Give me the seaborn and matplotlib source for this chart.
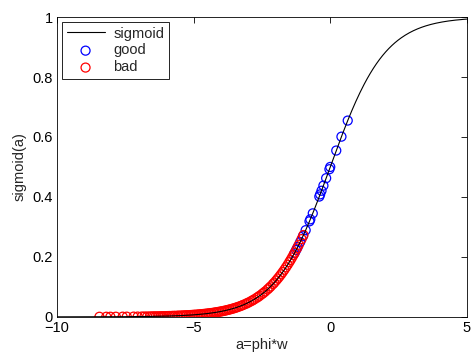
import numpy as np
import pandas as pd
import matplotlib
matplotlib.use("Agg")
import matplotlib.pyplot as plt
import seaborn as sns

# a values
good_a = [-1.31, -1.25, -1.19, -1.1, -1.0, -0.9, -0.76, -0.73, -0.64,
          -0.4, -0.37, -0.32, -0.25, -0.15, -0.03, 0.0, 0.22, 0.41, 0.64]
bad_a = [-8.45, -8.2, -8.05, -7.85, -7.6, -7.45, -7.2, -7.05, -6.9, -6.8,
         -6.7, -6.6, -6.52, -6.45, -6.38, -6.3, -6.22, -6.15, -6.08, -6.0,
         -5.94, -5.88, -5.8, -5.74, -5.68, -5.6, -5.55, -5.48, -5.42, -5.36,
         -5.3, -5.25, -5.18, -5.12, -5.06, -5.0, -4.95, -4.88, -4.82, -4.76,
         -4.7, -4.64, -4.58, -4.52, -4.46, -4.4, -4.35, -4.28, -4.22, -4.16,
         -4.1, -4.04, -3.98, -3.92, -3.86, -3.8, -3.74, -3.68, -3.62, -3.56,
         -3.5, -3.44, -3.38, -3.3, -3.24, -3.18, -3.1, -3.04, -2.98, -2.9,
         -2.84, -2.78, -2.7, -2.64, -2.58, -2.5, -2.44, -2.38, -2.3, -2.24,
         -2.18, -2.1, -2.05, -1.98, -1.92, -1.86, -1.8, -1.74, -1.68, -1.62,
         -1.56, -1.5, -1.45, -1.4, -1.35, -1.3, -1.22, -1.15, -1.05, -0.98]
x_ticks = [-10, -5, 0, 5]
y_ticks = [0, 0.2, 0.4, 0.6, 0.8, 1]
y_tick_labels = ["0", "0.2", "0.4", "0.6", "0.8", "1"]


def sigmoid(a):
    return 1.0 / (1.0 + np.exp(-np.asarray(a, dtype=float)))


curve_a = np.linspace(-10, 5, 400)
curve = pd.DataFrame({"a": curve_a, "s": sigmoid(curve_a)})
good = pd.DataFrame({"a": good_a, "s": sigmoid(good_a)})
bad = pd.DataFrame({"a": bad_a, "s": sigmoid(bad_a)})

sns.set_style("white")
plt.rcParams["font.family"] = ["Liberation Sans", "DejaVu Sans"]
plt.rcParams["xtick.direction"] = "in"
plt.rcParams["ytick.direction"] = "in"

fig = plt.figure(figsize=(4.72, 3.56), dpi=100)
ax = fig.add_axes([0.121, 0.110, 0.868, 0.842])

sns.lineplot(data=curve, x="a", y="s", ax=ax, color="black", linewidth=0.8,
             label="sigmoid")
sns.scatterplot(data=good, x="a", y="s", ax=ax, marker="o", s=42,
                facecolor="none", edgecolor=(0, 0, 1), linewidth=0.9,
                label="good")
sns.scatterplot(data=bad, x="a", y="s", ax=ax, marker="o", s=42,
                facecolor="none", edgecolor=(1, 0, 0), linewidth=0.9,
                label="bad")

ax.set_xlim(-10, 5)
ax.set_ylim(0, 1)
ax.set_xticks(x_ticks)
ax.set_xticklabels([str(t).replace("-", "\u2212") for t in x_ticks])
ax.set_yticks(y_ticks)
ax.set_yticklabels(y_tick_labels)
ax.tick_params(axis="both", which="both", direction="in", top=True, right=True,
               length=4, width=0.6, labelsize=10.5, colors="black", pad=3)
for sp in ax.spines.values():
    sp.set_visible(True)
    sp.set_color("black")
    sp.set_linewidth(0.6)
ax.set_xlabel("a=phi*w", fontsize=10.5, labelpad=2)
ax.set_ylabel("sigmoid(a)", fontsize=10.5, labelpad=4)

leg = ax.legend(loc="upper left", fontsize=10.5, frameon=True, fancybox=False,
                framealpha=1, edgecolor="black", borderaxespad=0.35,
                handlelength=2.6, handletextpad=0.6, labelspacing=0.2,
                borderpad=0.3)
leg.get_frame().set_linewidth(0.6)

fig.savefig("out.png", dpi=100)
